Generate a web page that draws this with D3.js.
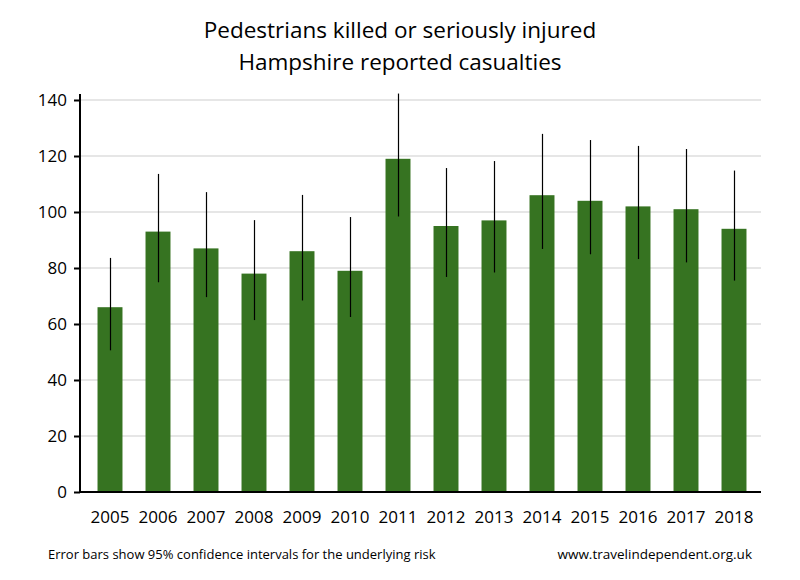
<!DOCTYPE html>
<meta charset="utf-8">
<script src="https://d3js.org/d3.v7.min.js"></script>
<style>
  body { margin: 0; background: #fff; }
  text { font-family: "Open Sans", "Noto Sans", sans-serif; fill: #000; }
</style>
<div id="chart"></div>
<script>

// data
var years = ["2005","2006","2007","2008","2009","2010","2011","2012","2013","2014","2015","2016","2017","2018"];
var casualties = [66, 93, 87, 78, 86, 79, 119, 95, 97, 106, 104, 102, 101, 94];
var ciLow  = [50.6, 74.9, 69.6, 61.4, 68.4, 62.5, 98.4, 76.8, 78.4, 86.8, 84.9, 83.2, 82.0, 75.5];
var ciHigh = [83.6, 113.6, 107.1, 97.1, 106.1, 98.2, 142.3, 115.7, 118.2, 127.9, 125.7, 123.6, 122.5, 114.8];
var yTicks = [0, 20, 40, 60, 80, 100, 120, 140];

var data = years.map(function(y, i) {
  return {year: y, value: casualties[i], lo: ciLow[i], hi: ciHigh[i]};
});

var W = 800, H = 580;
var plotLeft = 80, plotRight = 761, plotTop = 100, plotBottom = 492;

var svg = d3.select("#chart").append("svg")
    .attr("width", W)
    .attr("height", H);

// scales
var x = d3.scaleBand()
    .domain(years)
    .range([86, 758])
    .paddingInner(0.48)
    .paddingOuter(0.24);

var y = d3.scaleLinear()
    .domain([0, 140])
    .range([plotBottom, plotTop]);

// middle of a bar, snapped to a pixel so the 1px error bar stays crisp
function mid(d) { return Math.round(x(d.year) + x.bandwidth() / 2) + 0.5; }

// gridlines
svg.append("g")
  .selectAll("line")
  .data(yTicks.slice(1))
  .enter().append("line")
    .attr("x1", plotLeft)
    .attr("x2", plotRight)
    .attr("y1", function(d) { return y(d); })
    .attr("y2", function(d) { return y(d); })
    .attr("stroke", "#e6e6e6")
    .attr("stroke-width", 2);

// bars
svg.append("g")
  .selectAll("rect")
  .data(data)
  .enter().append("rect")
    .attr("x", function(d) { return x(d.year); })
    .attr("y", function(d) { return y(d.value); })
    .attr("width", x.bandwidth())
    .attr("height", function(d) { return y(0) - y(d.value); })
    .attr("fill", "#367321");

// error bars
svg.append("g")
  .selectAll("line")
  .data(data)
  .enter().append("line")
    .attr("x1", mid)
    .attr("x2", mid)
    .attr("y1", function(d) { return y(d.lo); })
    .attr("y2", function(d) { return y(d.hi); })
    .attr("stroke", "#000")
    .attr("stroke-width", 1.2);

// y axis
var yAxis = svg.append("g")
    .attr("transform", "translate(" + plotLeft + ",0)")
    .call(d3.axisLeft(y).tickValues(yTicks).tickSize(6).tickPadding(7));
yAxis.select(".domain").remove();
yAxis.selectAll(".tick line").attr("stroke", "#000").attr("stroke-width", 2);
yAxis.selectAll(".tick text")
    .style("font-size", "17px")
    .style("font-family", "'Open Sans', sans-serif");
yAxis.append("line")
    .attr("x1", 0).attr("x2", 0)
    .attr("y1", plotTop - 6).attr("y2", plotBottom + 1)
    .attr("stroke", "#000").attr("stroke-width", 2);

// x axis
var xAxis = svg.append("g")
    .attr("transform", "translate(0," + plotBottom + ")")
    .call(d3.axisBottom(x).tickSize(0).tickPadding(19));
xAxis.select(".domain").remove();
xAxis.selectAll(".tick text")
    .style("font-size", "17px")
    .style("font-family", "'Open Sans', sans-serif");
xAxis.append("line")
    .attr("x1", plotLeft - 1).attr("x2", plotRight)
    .attr("y1", 0).attr("y2", 0)
    .attr("stroke", "#000").attr("stroke-width", 2);

// title
svg.append("text")
    .attr("x", 400).attr("y", 38)
    .attr("text-anchor", "middle")
    .style("font-size", "22.5px")
    .text("Pedestrians killed or seriously injured");
svg.append("text")
    .attr("x", 400).attr("y", 70)
    .attr("text-anchor", "middle")
    .style("font-size", "22.5px")
    .text("Hampshire reported casualties");

// footer
svg.append("text")
    .attr("x", 48).attr("y", 559)
    .style("font-size", "13px")
    .text("Error bars show 95% confidence intervals for the underlying risk");
svg.append("text")
    .attr("x", 752).attr("y", 559)
    .attr("text-anchor", "end")
    .style("font-size", "13.5px")
    .text("www.travelindependent.org.uk");
</script>
